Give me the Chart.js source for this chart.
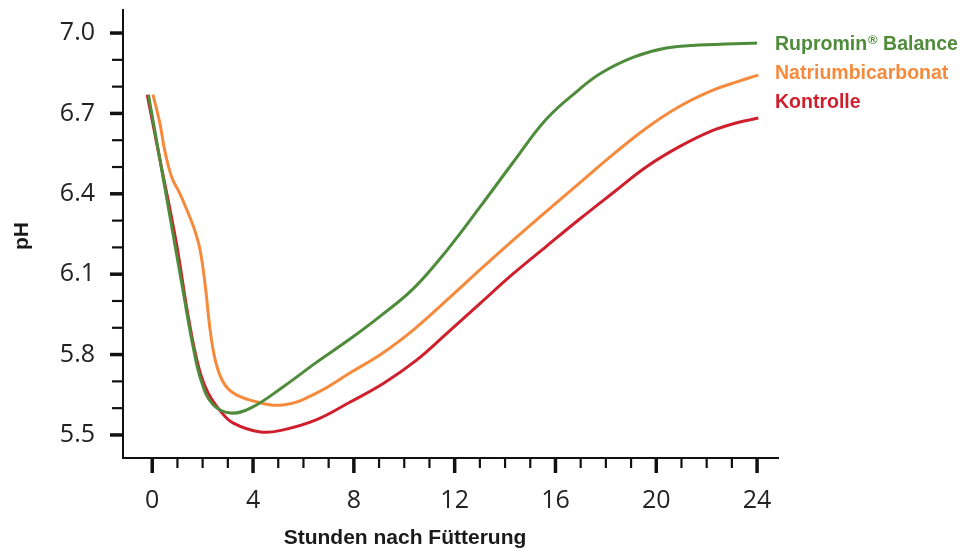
<!DOCTYPE html>
<html>
<head>
<meta charset="utf-8">
<script src="https://cdn.jsdelivr.net/npm/chart.js@4.4.0/dist/chart.umd.min.js"></script>
<style>
  html, body { margin: 0; padding: 0; background: #fff; }
</style>
</head>
<body>
<canvas id="phChart" width="962" height="550"></canvas>
<script>
// Daten
const seriesNames = ['Rupromin® Balance', 'Natriumbicarbonat', 'Kontrolle'];

const hoursRupromin = [-0.15, 0.6, 1.2, 1.6, 1.95, 2.4, 3.1, 3.9, 5.2, 6.5, 7.8, 9.0, 10.35, 11.7, 13.0, 14.3, 15.65, 16.95, 17.8, 19.1, 20.4, 21.7, 24.0];
const phRupromin    = [6.77, 6.37, 6.05, 5.84, 5.70, 5.615, 5.582, 5.60, 5.68, 5.77, 5.855, 5.94, 6.045, 6.19, 6.35, 6.515, 6.68, 6.79, 6.85, 6.91, 6.944, 6.955, 6.963];

const hoursNatrium = [0.03, 0.31, 0.5, 0.78, 1.1, 1.42, 1.7, 1.9, 2.1, 2.3, 2.5, 2.77, 3.16, 3.88, 5.19, 6.53, 7.84, 9.15, 10.4, 11.7, 13.0, 14.3, 15.65, 16.95, 18.3, 19.6, 20.9, 22.2, 23.2, 24.05];
const phNatrium    = [6.77, 6.66, 6.56, 6.46, 6.40, 6.33, 6.26, 6.19, 6.06, 5.89, 5.78, 5.705, 5.66, 5.63, 5.612, 5.657, 5.731, 5.806, 5.895, 6.004, 6.116, 6.225, 6.335, 6.44, 6.548, 6.645, 6.725, 6.785, 6.818, 6.843];

const hoursKontrolle = [-0.2, 0.3, 0.95, 1.45, 1.85, 2.2, 2.7, 3.2, 4.3, 5.2, 6.5, 7.8, 9.2, 10.5, 11.7, 13.0, 14.3, 15.65, 16.95, 18.3, 19.6, 20.9, 22.2, 23.2, 24.05];
const phKontrolle    = [6.77, 6.53, 6.22, 5.93, 5.75, 5.66, 5.59, 5.545, 5.511, 5.519, 5.556, 5.62, 5.694, 5.78, 5.88, 5.99, 6.10, 6.205, 6.305, 6.405, 6.50, 6.575, 6.635, 6.665, 6.683];

const xTickLabels = [0, 4, 8, 12, 16, 20, 24];
const yTickLabels = [5.5, 5.8, 6.1, 6.4, 6.7, 7.0];

const colors = ['#4e8b3a', '#f68a3c', '#cf1f2c'];

function toPoints(xs, ys) {
    return xs.map((x, i) => ({ x: x, y: ys[i] }));
}

// kleine und große Teilstriche an den Achsen
const tickMarks = {
    id: 'tickMarks',
    afterDraw(chart) {
        const ctx = chart.ctx;
        const xs = chart.scales.x, ys = chart.scales.y;
        const area = chart.chartArea;
        ctx.save();
        ctx.strokeStyle = '#111';
        for (let h = 0; h <= 24; h++) {
            const px = xs.getPixelForValue(h);
            const major = h % 4 === 0;
            ctx.lineWidth = major ? 3.5 : 2.2;
            ctx.beginPath();
            ctx.moveTo(px, area.bottom);
            ctx.lineTo(px, area.bottom + (major ? 15 : 10));
            ctx.stroke();
        }
        for (let i = 55; i <= 70; i++) {
            const py = ys.getPixelForValue(i / 10);
            const major = (i - 55) % 3 === 0;
            ctx.lineWidth = major ? 3.5 : 2.2;
            ctx.beginPath();
            ctx.moveTo(area.left, py);
            ctx.lineTo(area.left - (major ? 13 : 11), py);
            ctx.stroke();
        }
        ctx.restore();
    }
};

// Achsentitel und Beschriftung der Kurven
const labelsPlugin = {
    id: 'labelsPlugin',
    afterDraw(chart) {
        const ctx = chart.ctx;
        ctx.save();
        ctx.fillStyle = '#1a1a1a';
        ctx.font = 'bold 21px "Liberation Sans", Arial, sans-serif';
        ctx.textAlign = 'center';
        ctx.textBaseline = 'middle';
        ctx.fillText('Stunden nach Fütterung', 405, 538);
        ctx.translate(22, 236);
        ctx.rotate(-Math.PI / 2);
        ctx.fillText('pH', 0, 0);
        ctx.restore();

        ctx.save();
        ctx.textAlign = 'left';
        ctx.textBaseline = 'middle';
        const rows = [45, 74, 103];
        const mainFont = 'bold 19.5px "Liberation Sans", Arial, sans-serif';
        seriesNames.forEach((name, i) => {
            ctx.fillStyle = colors[i];
            ctx.font = mainFont;
            let x = 775;
            if (name.indexOf('®') > 0) {
                const parts = name.split('®');
                ctx.fillText(parts[0], x, rows[i]);
                x += ctx.measureText(parts[0]).width + 1;
                ctx.font = 'bold 13px "Liberation Sans", Arial, sans-serif';
                ctx.fillText('®', x, rows[i] - 5);
                x += ctx.measureText('®').width;
                ctx.font = mainFont;
                ctx.fillText(parts[1], x, rows[i]);
            } else {
                ctx.fillText(name, x, rows[i]);
            }
        });
        ctx.restore();
    }
};

const ctx = document.getElementById('phChart').getContext('2d');
new Chart(ctx, {
    type: 'line',
    data: {
        datasets: [
            { label: seriesNames[0], data: toPoints(hoursRupromin, phRupromin), borderColor: colors[0] },
            { label: seriesNames[1], data: toPoints(hoursNatrium, phNatrium), borderColor: colors[1] },
            { label: seriesNames[2], data: toPoints(hoursKontrolle, phKontrolle), borderColor: colors[2] }
        ].map(d => Object.assign(d, {
            borderWidth: 3,
            pointRadius: 0,
            fill: false,
            tension: 0.4
        }))
    },
    options: {
        responsive: false,
        animation: false,
        layout: { padding: { top: 10, right: 184, bottom: 0, left: 0 } },
        plugins: {
            legend: { display: false },
            tooltip: { enabled: false }
        },
        scales: {
            x: {
                type: 'linear',
                min: -1.16,
                max: 24.83,
                afterBuildTicks: s => { s.ticks = xTickLabels.map(v => ({ value: v })); },
                afterFit: s => { s.height = 92; s.paddingLeft = 0; s.paddingRight = 0; },
                grid: { drawOnChartArea: false, drawTicks: false },
                border: { color: '#111', width: 2 },
                ticks: {
                    padding: 28,
                    color: '#222',
                    font: { family: '"Open Sans", sans-serif', size: 25 },
                    maxRotation: 0
                }
            },
            y: {
                min: 5.414,
                max: 7.086,
                afterBuildTicks: s => { s.ticks = yTickLabels.map(v => ({ value: v })); },
                afterFit: s => { s.width = 123; s.paddingTop = 0; s.paddingBottom = 0; },
                grid: { drawOnChartArea: false, drawTicks: false },
                border: { color: '#111', width: 2 },
                ticks: {
                    padding: 28,
                    color: '#222',
                    font: { family: '"Open Sans", sans-serif', size: 25 },
                    callback: v => v.toFixed(1)
                }
            }
        }
    },
    plugins: [tickMarks, labelsPlugin]
});
</script>
</body>
</html>
